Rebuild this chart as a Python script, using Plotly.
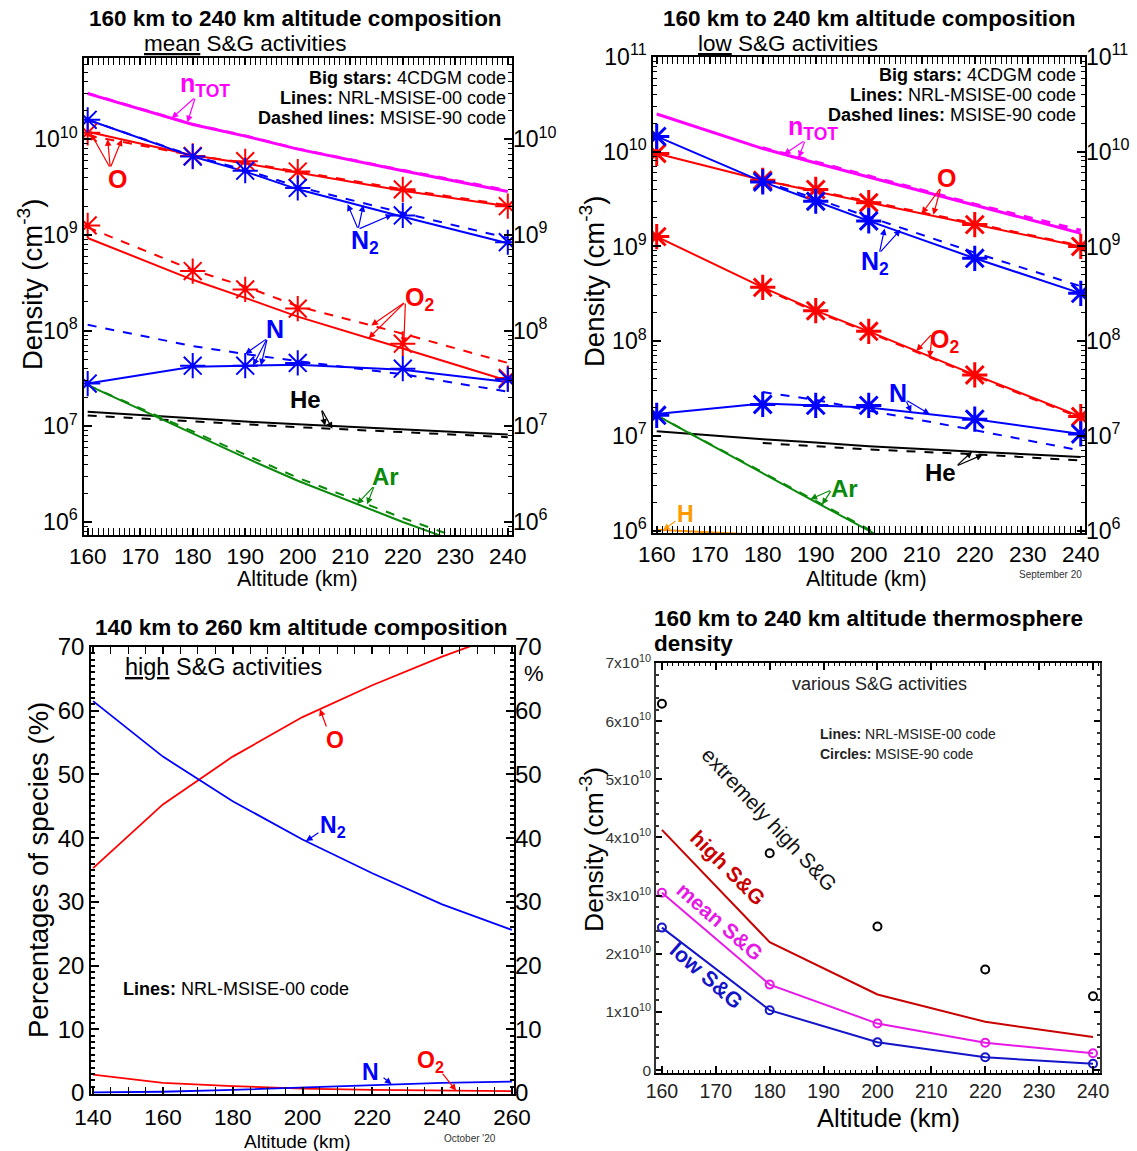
import numpy as np
import plotly.graph_objects as go

W, H = 1137, 1151
FONT = "Arial, Liberation Sans, sans-serif"

# ---------------- Data: top-left panel (mean S&G activities) ----------------
alt = [160, 180, 190, 200, 220, 240]
tl_ntot = [3.0e10, 1.43e10, 1.08e10, 7.9e9, 4.7e9, 2.85e9]
tl_ntot_d = [3.05e10, 1.45e10, 1.1e10, 8.0e9, 4.8e9, 2.95e9]
tl_O = [1.2e10, 6.8e9, 5.6e9, 4.5e9, 2.9e9, 2.0e9]
tl_O_d = [1.1e10, 6.8e9, 5.7e9, 4.6e9, 3.0e9, 2.05e9]
tl_O_star = [1.17e10, 6.7e9, 5.9e9, 4.6e9, 3.0e9, 2.0e9]
tl_N2 = [1.6e10, 6.6e9, 4.6e9, 3.0e9, 1.55e9, 8.2e8]
tl_N2_d = [1.6e10, 6.7e9, 4.8e9, 3.2e9, 1.7e9, 9.3e8]
tl_N2_star = [1.6e10, 6.6e9, 4.7e9, 3.1e9, 1.6e9, 8.4e8]
tl_O2 = [9.3e8, 3.4e8, 2.2e8, 1.4e8, 6.5e7, 3.0e7]
tl_O2_d = [1.2e9, 4.3e8, 2.9e8, 1.8e8, 9.3e7, 4.6e7]
tl_O2_star = [1.26e9, 4.2e8, 2.7e8, 1.7e8, 7.3e7, 3.2e7]
tl_N = [2.8e7, 4.2e7, 4.3e7, 4.4e7, 3.9e7, 2.9e7]
tl_N_d = [1.15e8, 6.9e7, 5.7e7, 4.8e7, 3.5e7, 2.3e7]
tl_N_star = [2.8e7, 4.3e7, 4.3e7, 4.6e7, 4.0e7, 3.1e7]
tl_He = [1.42e7, 1.2e7, 1.12e7, 1.05e7, 9.3e6, 8.2e6]
tl_He_d = [1.3e7, 1.12e7, 1.05e7, 9.8e6, 8.7e6, 7.7e6]
tl_Ar = [2.7e7, 8.4e6, 4.7e6, 2.7e6, 1.0e6, 4.0e5]
tl_Ar_d = [2.7e7, 8.8e6, 5.0e6, 2.9e6, 1.1e6, 4.5e5]

# ---------------- Data: top-right panel (low S&G activities) ----------------
tr_ntot = [2.5e10, 1.08e10, 7.6e9, 5.4e9, 2.7e9, 1.38e9]
tr_ntot_d = [np.nan, 1.1e10, 7.8e9, 5.6e9, 2.8e9, 1.48e9]
tr_O = [9.6e9, 5.0e9, 3.8e9, 2.9e9, 1.7e9, 1.0e9]
tr_O_d = [np.nan, 5.0e9, 3.9e9, 3.0e9, 1.75e9, 1.02e9]
tr_O_star = [9.6e9, 5.0e9, 4.0e9, 2.9e9, 1.7e9, 1.0e9]
tr_N2 = [1.45e10, 4.8e9, 3.0e9, 1.86e9, 7.5e8, 3.2e8]
tr_N2_d = [np.nan, 4.9e9, 3.2e9, 2.05e9, 8.6e8, 3.8e8]
tr_N2_star = [1.45e10, 4.8e9, 3.0e9, 1.86e9, 7.5e8, 3.2e8]
tr_O2 = [1.27e9, 3.7e8, 2.1e8, 1.27e8, 4.4e7, 1.6e7]
tr_O2_d = [np.nan, 3.6e8, 2.05e8, 1.24e8, 4.3e7, 1.55e7]
tr_O2_star = [1.27e9, 3.7e8, 2.1e8, 1.27e8, 4.4e7, 1.6e7]
tr_N = [1.7e7, 2.2e7, 2.1e7, 2.0e7, 1.5e7, 1.05e7]
tr_N_d = [np.nan, 2.9e7, 2.4e7, 1.85e7, 1.15e7, 7.0e6]
tr_N_star = [1.65e7, 2.15e7, 2.1e7, 2.1e7, 1.5e7, 1.05e7]
tr_He = [1.12e7, 9.2e6, 8.5e6, 7.8e6, 6.8e6, 6.0e6]
tr_He_d = [np.nan, 8.4e6, 7.8e6, 7.2e6, 6.4e6, 5.5e6]
tr_Ar = [1.65e7, 4.0e6, 2.0e6, 1.0e6, 2.5e5, 6.0e4]
tr_Ar_d = [1.65e7, 4.1e6, 2.05e6, 1.03e6, 2.6e5, 6.5e4]
h_alt = [160, 180, 200]
tr_H = [1.02e6, 9.0e5, 8.0e5]

# ---------------- Data: bottom-left panel (high S&G, percentages) ----------------
bl_alt = [140, 160, 180, 200, 220, 240, 260]
bl_O = [35.3, 45.3, 52.8, 59.0, 64.0, 68.5, 72.5]
bl_N2 = [61.5, 52.8, 45.8, 39.8, 34.5, 29.6, 25.6]
bl_O2 = [2.9, 1.6, 1.1, 0.7, 0.5, 0.4, 0.3]
bl_N = [0.1, 0.2, 0.5, 0.9, 1.3, 1.6, 1.8]

# ---------------- Data: bottom-right panel (total density) ----------------
br_alt = [160, 180, 200, 220, 240]
br_ext = [6.3e10, 3.73e10, 2.47e10, 1.73e10, 1.27e10]
br_high = [4.13e10, 2.2e10, 1.3e10, 0.83e10, 0.57e10]
br_mean = [3.05e10, 1.47e10, 0.8e10, 0.47e10, 0.29e10]
br_low = [2.45e10, 1.03e10, 0.48e10, 0.22e10, 0.11e10]

# tick labels
log_tick_vals = [1e6, 1e7, 1e8, 1e9, 1e10, 1e11]
log_tick_text = ["10<sup>6</sup>", "10<sup>7</sup>", "10<sup>8</sup>", "10<sup>9</sup>",
                 "10<sup>10</sup>", "10<sup>11</sup>"]
alt_ticks = [160, 170, 180, 190, 200, 210, 220, 230, 240]
bl_xticks = [140, 160, 180, 200, 220, 240, 260]
bl_yticks = [0, 10, 20, 30, 40, 50, 60, 70]
br_yvals = [0, 1e10, 2e10, 3e10, 4e10, 5e10, 6e10, 7e10]
br_ytext = ["0"] + [f"{k}x10<sup>10</sup>" for k in range(1, 8)]

RED = "#ff0000"
BLUE = "#0000ff"
MAG = "#ff00ff"
GREEN = "#0a8a0a"
ORANGE = "#ff9900"


def px(x):
    return x / W


def py(y):
    return 1 - y / H


def lin(xs, ys, a):
    return float(np.interp(a, xs, ys))


def lg(xs, ys, a):
    return float(np.interp(a, xs, np.log10(ys)))


fig = go.Figure()


def line(x, y, color, xa, ya, width=2, dash="solid"):
    fig.add_trace(go.Scatter(x=x, y=y, mode="lines", xaxis=xa, yaxis=ya,
                             line=dict(color=color, width=width, dash=dash),
                             hoverinfo="skip", connectgaps=False))


def stars(x, y, color, xa, ya, size=21, width=2):
    fig.add_trace(go.Scatter(x=x, y=y, mode="markers", xaxis=xa, yaxis=ya,
                             marker=dict(symbol="asterisk-open", size=size, color=color,
                                         line=dict(color=color, width=width)),
                             hoverinfo="skip"))


# ---- top-left traces
line(alt, tl_ntot, MAG, "x", "y", 3)
line(alt, tl_ntot_d, MAG, "x", "y", 2, "dash")
line(alt, tl_O, RED, "x", "y")
line(alt, tl_O_d, RED, "x", "y", 2, "dash")
line(alt, tl_N2, BLUE, "x", "y")
line(alt, tl_N2_d, BLUE, "x", "y", 2, "dash")
line(alt, tl_O2, RED, "x", "y")
line(alt, tl_O2_d, RED, "x", "y", 2, "dash")
line(alt, tl_N, BLUE, "x", "y")
line(alt, tl_N_d, BLUE, "x", "y", 2, "dash")
line(alt, tl_He, "black", "x", "y")
line(alt, tl_He_d, "black", "x", "y", 2, "dash")
line(alt, tl_Ar, GREEN, "x", "y")
line(alt, tl_Ar_d, GREEN, "x", "y", 2, "dash")
stars(alt, tl_O_star, RED, "x", "y")
stars(alt, tl_N2_star, BLUE, "x", "y")
stars(alt, tl_O2_star, RED, "x", "y")
stars(alt, tl_N_star, BLUE, "x", "y")

# ---- top-right traces
line(alt, tr_ntot, MAG, "x2", "y2", 3)
line(alt, tr_ntot_d, MAG, "x2", "y2", 3, "dash")
line(alt, tr_O, RED, "x2", "y2")
line(alt, tr_O_d, RED, "x2", "y2", 2, "dash")
line(alt, tr_N2, BLUE, "x2", "y2")
line(alt, tr_N2_d, BLUE, "x2", "y2", 2, "dash")
line(alt, tr_O2, RED, "x2", "y2")
line(alt, tr_O2_d, RED, "x2", "y2", 2, "dash")
line(alt, tr_N, BLUE, "x2", "y2")
line(alt, tr_N_d, BLUE, "x2", "y2", 2, "dash")
line(alt, tr_He, "black", "x2", "y2")
line(alt, tr_He_d, "black", "x2", "y2", 2, "dash")
line(alt, tr_Ar, GREEN, "x2", "y2")
line(alt, tr_Ar_d, GREEN, "x2", "y2", 2, "dash")
line(h_alt, tr_H, ORANGE, "x2", "y2", 2)
stars(alt, tr_O_star, RED, "x2", "y2", 21, 3)
stars(alt, tr_N2_star, BLUE, "x2", "y2", 21, 3)
stars(alt, tr_O2_star, RED, "x2", "y2", 21, 3)
stars(alt, tr_N_star, BLUE, "x2", "y2", 21, 3)

# ---- bottom-left traces
line(bl_alt, bl_O, RED, "x3", "y3", 1.8)
line(bl_alt, bl_N2, BLUE, "x3", "y3", 1.8)
line(bl_alt, bl_O2, RED, "x3", "y3", 1.8)
line(bl_alt, bl_N, BLUE, "x3", "y3", 1.8)

# ---- bottom-right traces
BR_HIGH, BR_MEAN, BR_LOW = "#c80000", "#e619e6", "#1414c8"
line(br_alt, br_high, BR_HIGH, "x4", "y4", 2)
line(br_alt, br_mean, BR_MEAN, "x4", "y4", 2)
line(br_alt, br_low, BR_LOW, "x4", "y4", 2)
for s, c in [(br_ext, "black"), (br_mean, BR_MEAN), (br_low, BR_LOW)]:
    fig.add_trace(go.Scatter(x=br_alt, y=s, mode="markers", xaxis="x4", yaxis="y4",
                             marker=dict(symbol="circle-open", size=8, color=c,
                                         line=dict(color=c, width=2)),
                             hoverinfo="skip", cliponaxis=False))

# dummy traces for right-hand label axes
for xa, ya in [("x", "y5"), ("x2", "y6"), ("x3", "y7")]:
    fig.add_trace(go.Scatter(x=[None], y=[None], xaxis=xa, yaxis=ya, showlegend=False))


def xax(domain, rng, tickvals, size, minor_dtick, color="black", ticklen=7, standoff=None):
    d = dict(domain=domain, range=rng, tickmode="array", tickvals=tickvals,
             ticks="inside", ticklen=ticklen, tickwidth=1.5, tickcolor="black",
             mirror="allticks", showline=True, linecolor="black", linewidth=1.5,
             showgrid=False, zeroline=False, automargin=False,
             tickfont=dict(family=FONT, size=size, color=color),
             minor=dict(ticks="inside", ticklen=3, dtick=minor_dtick, tickcolor="black",
                        tickwidth=1, showgrid=False))
    if standoff is not None:
        d["ticklabelstandoff"] = standoff
    return d


def ylogax(domain, rng, anchor):
    return dict(domain=domain, type="log", range=rng, anchor=anchor, tickmode="array",
                tickvals=log_tick_vals, ticktext=log_tick_text,
                ticks="inside", ticklen=8, tickwidth=1.5, tickcolor="black",
                mirror="allticks", showline=True, linecolor="black", linewidth=1.5,
                showgrid=False, zeroline=False, automargin=False,
                tickfont=dict(family=FONT, size=23, color="black"),
                minor=dict(ticks="inside", ticklen=4, dtick="D1", tickcolor="black",
                           tickwidth=1, showgrid=False))


def yright(rng, over, anchor, typ="log", vals=None, text=None, size=23):
    return dict(overlaying=over, side="right", anchor=anchor, range=rng, type=typ,
                tickmode="array", tickvals=vals, ticktext=text, ticks="", showgrid=False,
                zeroline=False, showline=False, automargin=False,
                tickfont=dict(family=FONT, size=size, color="black"))


TL_Y = [5.864, 10.85]
TR_Y = [5.975, 11.0]

fig.update_layout(
    width=W, height=H, margin=dict(l=0, r=0, t=0, b=0, pad=0, autoexpand=False),
    autosize=False,
    paper_bgcolor="white", plot_bgcolor="white", showlegend=False,
    xaxis=dict(**xax([px(84), px(512)], [159.3, 240.8], alt_ticks, 22.5, 1), anchor="y"),
    yaxis=ylogax([py(535), py(58)], TL_Y, "x"),
    xaxis2=dict(**xax([px(653), px(1085)], [159.3, 240.8], alt_ticks, 22.5, 1), anchor="y2"),
    yaxis2=ylogax([py(533), py(57)], TR_Y, "x2"),
    xaxis3=dict(**xax([px(91), px(514)], [139.4, 260.6], bl_xticks, 22.5, 5, standoff=2),
                anchor="y3"),
    yaxis3=dict(domain=[py(1094), py(647)], range=[-0.15, 70.0], anchor="x3", tickmode="array",
                tickvals=bl_yticks, ticks="inside", ticklen=8, tickwidth=1.5, tickcolor="black",
                mirror="allticks", showline=True, linecolor="black", linewidth=1.5,
                showgrid=False, zeroline=False, automargin=False,
                tickfont=dict(family=FONT, size=24, color="black"),
                minor=dict(ticks="inside", ticklen=4, dtick=1, tickcolor="black", showgrid=False)),
    xaxis4=dict(**xax([px(656), px(1100)], [158.9, 241.3], alt_ticks, 19.5, 1, color="#222"),
                anchor="y4"),
    yaxis4=dict(domain=[py(1073), py(663)], range=[-0.05e10, 7.0e10], anchor="x4",
                tickmode="array", tickvals=br_yvals, ticktext=br_ytext,
                ticks="inside", ticklen=6, tickwidth=1.5, tickcolor="black",
                mirror="allticks", showline=True, linecolor="#333", linewidth=1.5,
                showgrid=False, zeroline=False, automargin=False,
                tickfont=dict(family=FONT, size=15.5, color="#333"),
                minor=dict(ticks="inside", ticklen=3, dtick=2e9, tickcolor="#333", showgrid=False)),
    yaxis5=yright(TL_Y, "y", "x", vals=log_tick_vals, text=log_tick_text),
    yaxis6=yright(TR_Y, "y2", "x2", vals=log_tick_vals, text=log_tick_text),
    yaxis7=yright([-0.15, 70.0], "y3", "x3", typ="linear", vals=bl_yticks,
                  text=[str(v) for v in bl_yticks], size=24),
)

ann = []


def txt(x, y, text, size=18, color="black", xref="paper", yref="paper", xanchor="center",
        yanchor="middle", angle=0, align="center"):
    ann.append(dict(x=x, y=y, xref=xref, yref=yref, text=text, showarrow=False,
                    font=dict(family=FONT, size=size, color=color), xanchor=xanchor,
                    yanchor=yanchor, textangle=angle, align=align))


def arr(xr, yr, hx, hy, tx, ty, color):
    ann.append(dict(x=hx, y=hy, xref=xr, yref=yr, ax=tx, ay=ty, axref=xr, ayref=yr,
                    text="", showarrow=True, arrowhead=2, arrowsize=1.1, arrowwidth=1.2,
                    arrowcolor=color, standoff=0, startstandoff=0))


# ---- titles & axis titles
txt(px(295), py(19), "<b>160 km to 240 km altitude composition</b>", 22.5)
txt(px(245), py(43), "<u>mean</u> S&G activities", 22.5)
txt(px(869), py(19), "<b>160 km to 240 km altitude composition</b>", 22.5)
txt(px(788), py(43), "<u>low</u> S&G activities", 22.5)
txt(px(301), py(627), "<b>140 km to 260 km altitude composition</b>", 22.5)
txt(px(652), py(619), "<b>160 km to 240 km altitude thermosphere</b>", 22.5, xanchor="left")
txt(px(652), py(643), "<b>density</b>", 22.5, xanchor="left")

txt(px(30), py(285), "Density (cm<sup>-3</sup>)", 27.5, angle=-90)
txt(px(297), py(579), "Altitude (km)", 21.5)
txt(px(592), py(282), "Density (cm<sup>-3</sup>)", 27.5, angle=-90)
txt(px(866), py(579), "Altitude (km)", 21.5)
txt(px(38), py(870), "Percentages of species (%)", 27.5, angle=-90)
txt(px(297), py(1141), "Altitude (km)", 19)
txt(px(592), py(850), "Density (cm<sup>-3</sup>)", 26.5, angle=-90)
txt(px(888), py(1118), "Altitude (km)", 25.5)

txt(px(1050), py(574), "September 20", 10, "#333")
txt(px(470), py(1138), "October '20", 10, "#333")
txt(px(534), py(673), "%", 22)

# ---- legends
for i, (b, r) in enumerate([("Big stars:", "4CDGM code"), ("Lines:", "NRL-MSISE-00 code"),
                            ("Dashed lines:", "MSISE-90 code")]):
    txt(px(508), py(78 + 20 * i), f"<b>{b}</b> {r}", 18, xanchor="right")
    txt(px(1078), py(75 + 20 * i), f"<b>{b}</b> {r}", 18, xanchor="right")

# ---- top-left species labels + arrows
txt(182.3, 10.57, "<b>n<sub>TOT</sub></b>", 25, MAG, "x", "y")
arr("x", "y", 176, lg(alt, tl_ntot, 176), 180.5, 10.44, MAG)
arr("x", "y", 179, lg(alt, tl_ntot_d, 179), 180.5, 10.44, MAG)
txt(165.7, 9.59, "<b>O</b>", 25, RED, "x", "y")
for a, s in [(160.6, tl_O_star), (163.8, tl_O_d), (166.5, tl_O)]:
    arr("x", "y", a, lg(alt, s, a), 164.3, 9.7, RED)
txt(212.9, 8.93, "<b>N<sub>2</sub></b>", 25, BLUE, "x", "y")
for a, s in [(209.5, tl_N2), (212.5, tl_N2_d), (218.0, tl_N2_star)]:
    arr("x", "y", a, lg(alt, s, a) - 0.02, 211.5, 9.06, BLUE)
txt(223.2, 8.33, "<b>O<sub>2</sub></b>", 25, RED, "x", "y")
for a, s in [(214.0, tl_O2_d), (213.5, tl_O2), (220.2, tl_O2_star)]:
    arr("x", "y", a, lg(alt, s, a), 220.5, 8.3, RED)
txt(195.7, 8.02, "<b>N</b>", 25, BLUE, "x", "y")
for a, s in [(190.0, tl_N_d), (191.5, tl_N), (193.0, tl_N)]:
    arr("x", "y", a, lg(alt, s, a), 194.2, 7.92, BLUE)
txt(201.4, 7.28, "<b>He</b>", 24, "black", "x", "y")
for a, s in [(205.2, tl_He), (206.6, tl_He_d)]:
    arr("x", "y", a, lg(alt, s, a), 204.5, 7.18, "black")
txt(216.7, 6.48, "<b>Ar</b>", 24, GREEN, "x", "y")
for a, s in [(211.3, tl_Ar), (213.2, tl_Ar_d)]:
    arr("x", "y", a, lg(alt, s, a), 214.6, 6.38, GREEN)

# ---- top-right species labels + arrows
txt(189.5, 10.25, "<b>n<sub>TOT</sub></b>", 25, MAG, "x2", "y2")
for a, s in [(184.0, tr_ntot), (186.8, tr_ntot_d)]:
    arr("x2", "y2", a, lg(alt, s, a), 188.0, 10.12, MAG)
txt(214.7, 9.72, "<b>O</b>", 25, RED, "x2", "y2")
for a, s in [(210.0, tr_O), (212.2, tr_O_d)]:
    arr("x2", "y2", a, lg(alt, s, a), 213.6, 9.62, RED)
txt(201.2, 8.83, "<b>N<sub>2</sub></b>", 25, BLUE, "x2", "y2")
for a, s in [(203.0, tr_N2), (206.0, tr_N2_d)]:
    arr("x2", "y2", a, lg(alt, s, a) - 0.02, 202.0, 8.93, BLUE)
txt(214.3, 8.0, "<b>O<sub>2</sub></b>", 25, RED, "x2", "y2")
for a, s in [(209.0, tr_O2), (211.5, tr_O2_d)]:
    arr("x2", "y2", a, lg(alt, s, a), 212.0, 8.08, RED)
txt(205.6, 7.45, "<b>N</b>", 25, BLUE, "x2", "y2")
for a, s in [(208.0, tr_N), (211.5, tr_N)]:
    arr("x2", "y2", a, lg(alt, s, a), 207.0, 7.38, BLUE)
txt(213.6, 6.61, "<b>He</b>", 24, "black", "x2", "y2")
for a, s in [(219.5, tr_He), (221.5, tr_He_d)]:
    arr("x2", "y2", a, lg(alt, s, a), 216.5, 6.68, "black")
txt(195.4, 6.45, "<b>Ar</b>", 24, GREEN, "x2", "y2")
for a, s in [(189.0, tr_Ar), (191.2, tr_Ar_d)]:
    arr("x2", "y2", a, lg(alt, s, a), 193.0, 6.43, GREEN)
txt(165.4, 6.18, "<b>H</b>", 23, ORANGE, "x2", "y2")
arr("x2", "y2", 161.2, lg(h_alt, tr_H, 161.2), 163.8, 6.11, ORANGE)

# ---- bottom-left labels
txt(148.6, 66.8, "<u>high</u> S&G activities", 23.5, xref="x3", yref="y3", xanchor="left")
txt(148.0, 16.3, "<b>Lines:</b> NRL-MSISE-00 code", 18, xref="x3", yref="y3",
    xanchor="left")
txt(209.3, 55.4, "<b>O</b>", 23, RED, "x3", "y3")
arr("x3", "y3", 205.0, lin(bl_alt, bl_O, 205.0), 207.0, 57.3, RED)
txt(208.6, 41.9, "<b>N<sub>2</sub></b>", 23, BLUE, "x3", "y3")
arr("x3", "y3", 201.0, lin(bl_alt, bl_N2, 201.0), 205.0, 41.0, BLUE)
txt(219.4, 3.3, "<b>N</b>", 23, BLUE, "x3", "y3")
arr("x3", "y3", 225.5, lin(bl_alt, bl_N, 225.5), 222.8, 2.6, BLUE)
txt(236.6, 5.0, "<b>O<sub>2</sub></b>", 23, RED, "x3", "y3")
arr("x3", "y3", 244.0, lin(bl_alt, bl_O2, 244.0), 239.8, 3.3, RED)

# ---- bottom-right labels
txt(200.3, 6.64e10, "various S&G activities", 18, "#222", "x4", "y4")
txt(189.0, 5.78e10, "<b>Lines:</b> NRL-MSISE-00 code", 14, "#222", "x4", "y4",
    xanchor="left")
txt(189.0, 5.43e10, "<b>Circles:</b> MSISE-90 code", 14, "#222", "x4", "y4",
    xanchor="left")
txt(180.0, 4.31e10, "extremely high S&G", 21, "#111", "x4", "y4", angle=47)
txt(172.2, 3.48e10, "<b>high S&G</b>", 21, BR_HIGH, "x4", "y4", angle=45)
txt(170.8, 2.56e10, "<b>mean S&G</b>", 21, BR_MEAN, "x4", "y4", angle=41)
txt(168.2, 1.62e10, "<b>low S&G</b>", 21.5, BR_LOW, "x4", "y4", angle=41)

fig.update_layout(annotations=ann)
fig.write_html("out.html", config={"displayModeBar": False},
               post_script="document.body.style.margin='0px';")
